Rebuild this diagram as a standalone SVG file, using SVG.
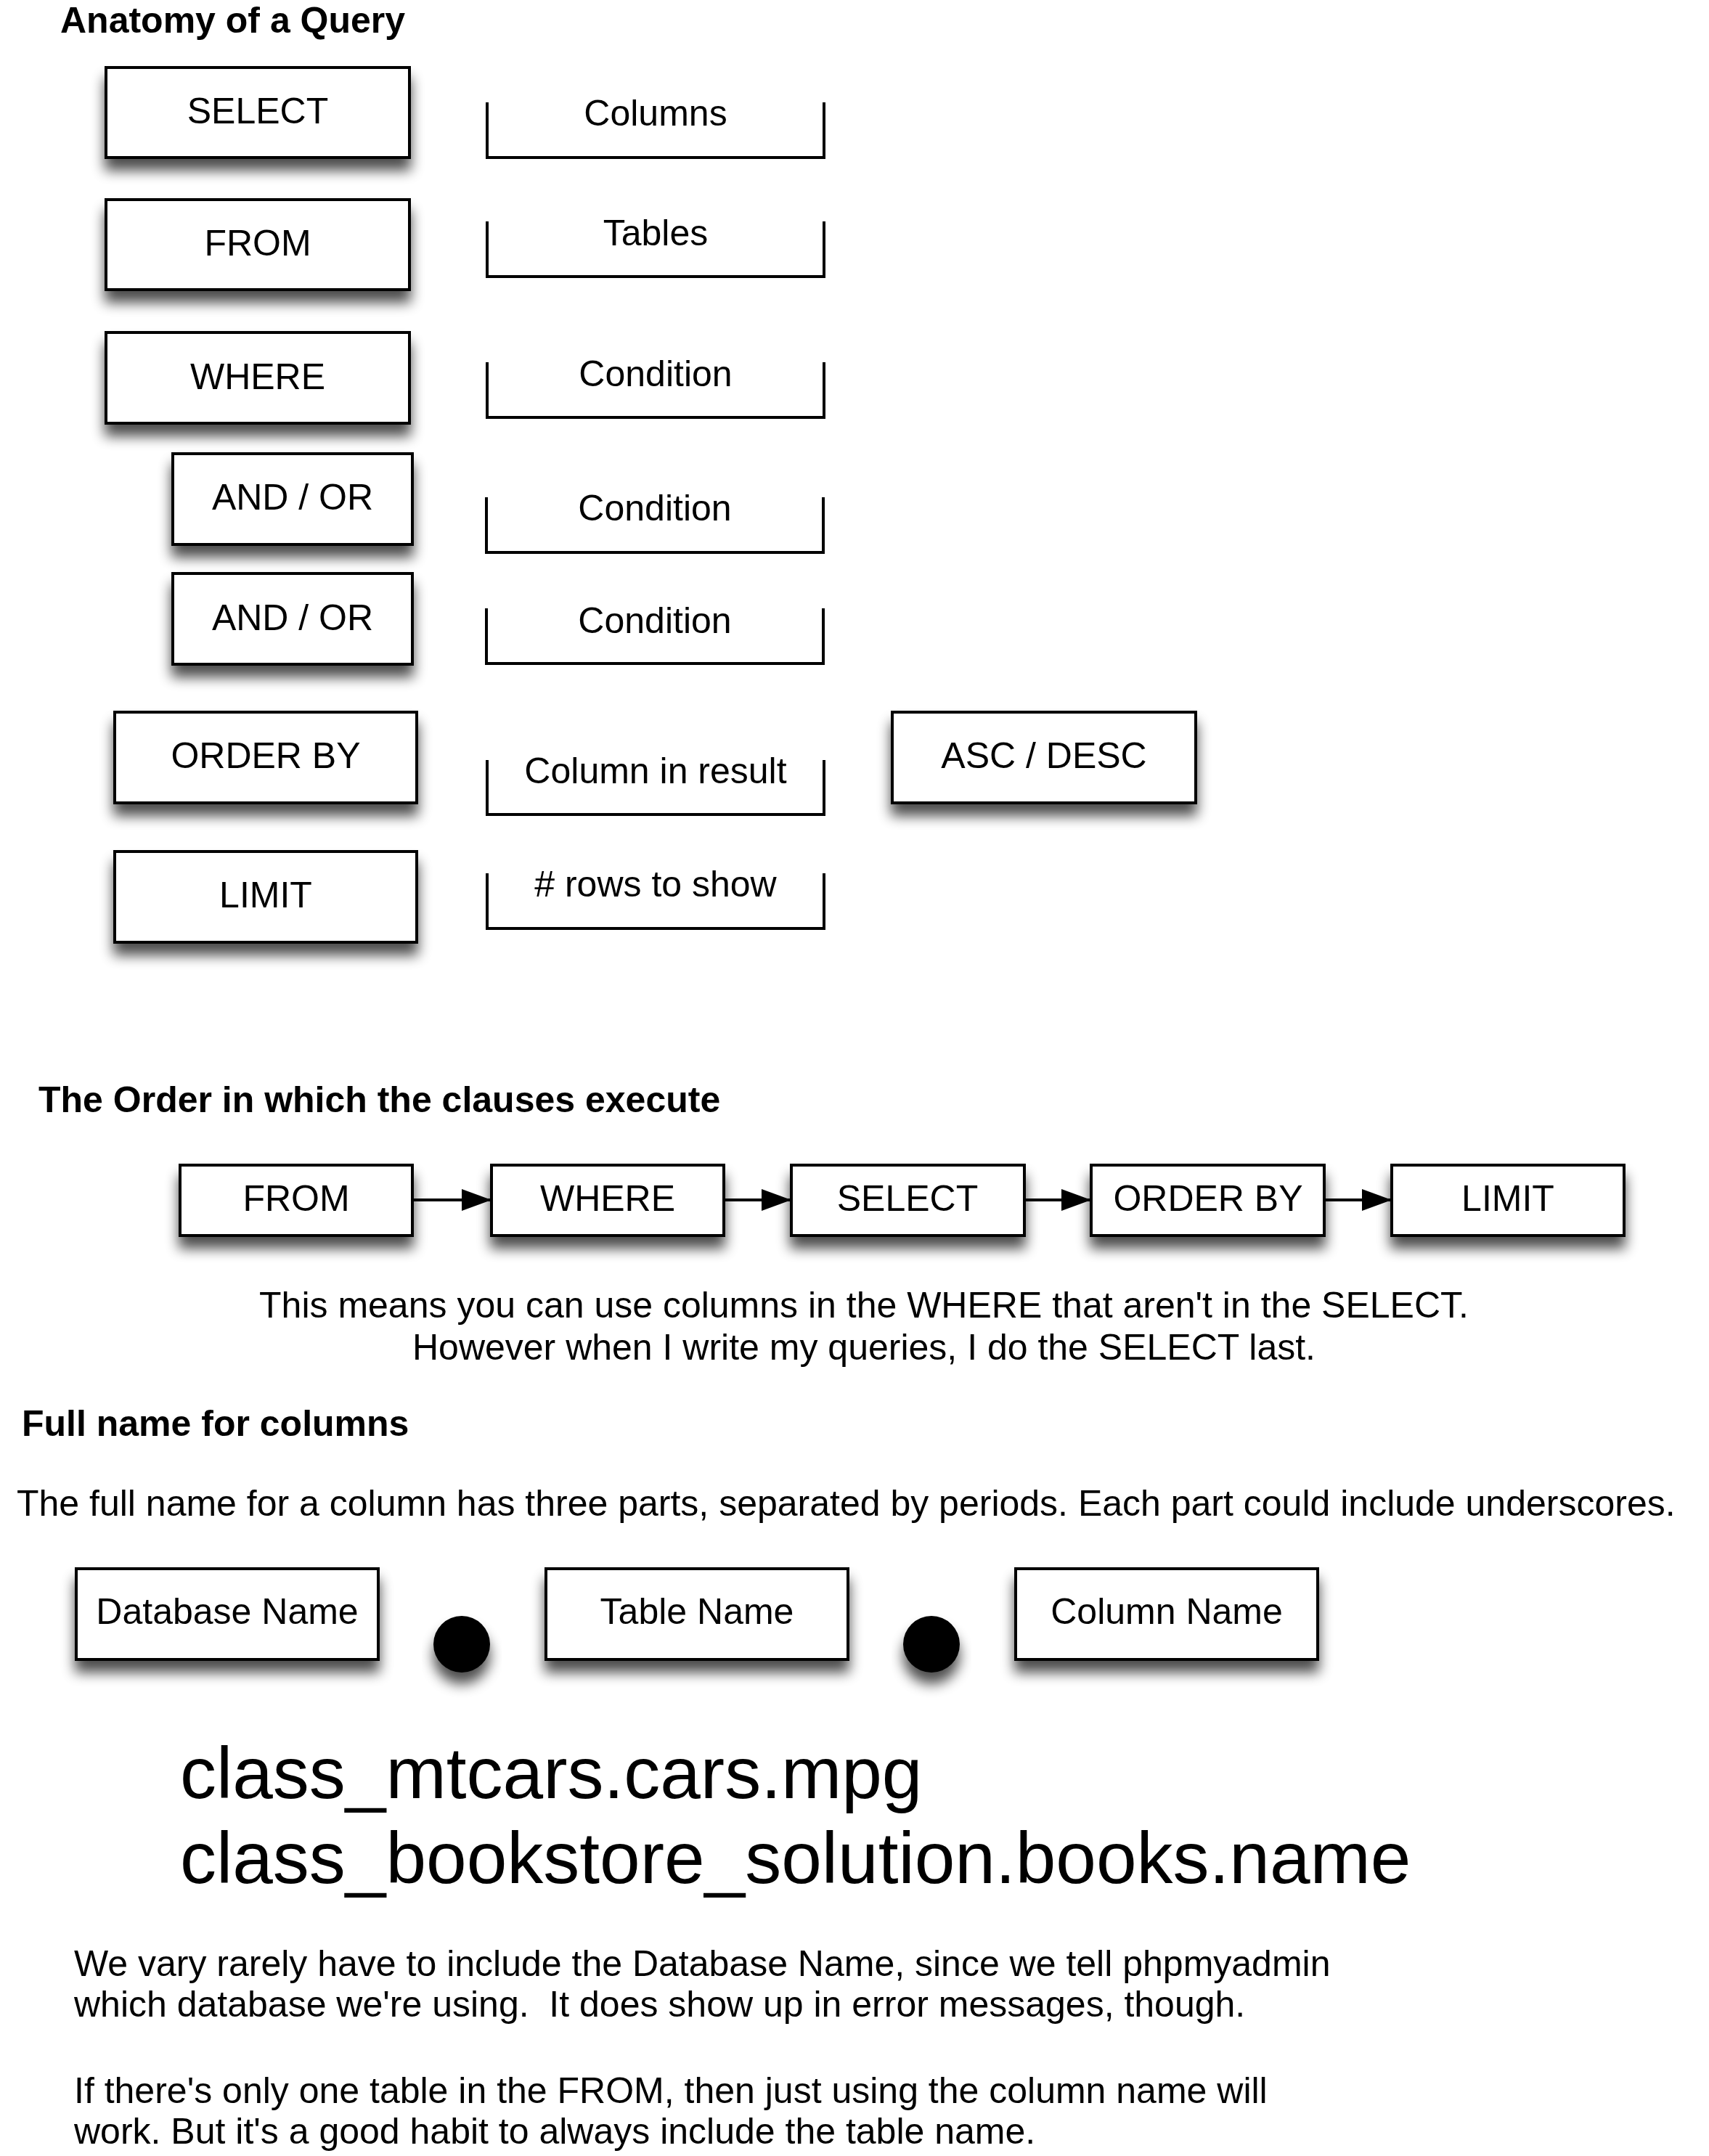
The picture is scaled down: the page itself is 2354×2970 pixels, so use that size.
<svg xmlns="http://www.w3.org/2000/svg" width="2354" height="2970" viewBox="0 0 2354 2970">
<style>
  text { font-family: "Liberation Sans", Arial, Helvetica, sans-serif; font-size: 50px; fill: #000; }
  .title { font-weight: bold; }
  .lbl { text-anchor: middle; }
  .code { font-size: 100px; }
  .box { fill: #fff; stroke: #000; stroke-width: 4; filter: url(#shadow); }
  .brk { fill: none; stroke: #000; stroke-width: 4; }
  .dot { fill: #000; filter: url(#shadow); }
  .conn { stroke: #000; stroke-width: 4; fill: none; marker-end: url(#arrow); }
</style>
<defs>
  <filter id="shadow" x="-20%" y="-30%" width="140%" height="190%">
    <feGaussianBlur in="SourceAlpha" stdDeviation="9"/>
    <feOffset dx="0" dy="16" result="b"/>
    <feComponentTransfer><feFuncA type="linear" slope="0.7"/></feComponentTransfer>
    <feMerge><feMergeNode/><feMergeNode in="SourceGraphic"/></feMerge>
  </filter>
  <marker id="arrow" markerUnits="userSpaceOnUse" markerWidth="42" markerHeight="32" refX="41" refY="15" orient="auto">
    <path d="M0,0 L41,15 L0,30 z" fill="#000"/>
  </marker>
</defs>
<rect width="2354" height="2970" fill="#fff"/>

<text class="title" x="83" y="45">Anatomy of a Query</text>

<g id="n-select"><rect class="box" x="146" y="93" width="418" height="124"/><text class="lbl" x="355" y="170">SELECT</text></g>
<g id="n-columns"><path class="brk" d="M671,141 V217 H1135 V141"/><text class="lbl" x="903" y="173">Columns</text></g>

<g id="n-from"><rect class="box" x="146" y="275" width="418" height="124"/><text class="lbl" x="355" y="352">FROM</text></g>
<g id="n-tables"><path class="brk" d="M671,305 V381 H1135 V305"/><text class="lbl" x="903" y="338">Tables</text></g>

<g id="n-where"><rect class="box" x="146" y="458" width="418" height="125"/><text class="lbl" x="355" y="536">WHERE</text></g>
<g id="n-cond1"><path class="brk" d="M671,499 V575 H1135 V499"/><text class="lbl" x="903" y="532">Condition</text></g>

<g id="n-andor1"><rect class="box" x="238" y="625" width="330" height="125"/><text class="lbl" x="403" y="702">AND / OR</text></g>
<g id="n-cond2"><path class="brk" d="M670,685 V761 H1134 V685"/><text class="lbl" x="902" y="717">Condition</text></g>

<g id="n-andor2"><rect class="box" x="238" y="790" width="330" height="125"/><text class="lbl" x="403" y="868">AND / OR</text></g>
<g id="n-cond3"><path class="brk" d="M670,838 V914 H1134 V838"/><text class="lbl" x="902" y="872">Condition</text></g>

<g id="n-orderby"><rect class="box" x="158" y="981" width="416" height="125"/><text class="lbl" x="366" y="1058">ORDER BY</text></g>
<g id="n-colres"><path class="brk" d="M671,1047 V1122 H1135 V1047"/><text class="lbl" x="903" y="1079">Column in result</text></g>
<g id="n-ascdesc"><rect class="box" x="1229" y="981" width="418" height="125"/><text class="lbl" x="1438" y="1058">ASC / DESC</text></g>

<g id="n-limit"><rect class="box" x="158" y="1173" width="416" height="125"/><text class="lbl" x="366" y="1250">LIMIT</text></g>
<g id="n-rows"><path class="brk" d="M671,1203 V1279 H1135 V1203"/><text class="lbl" x="903" y="1235"># rows to show</text></g>

<text class="title" x="53" y="1532">The Order in which the clauses execute</text>

<g id="f-from"><rect class="box" x="248" y="1605" width="320" height="97"/><text class="lbl" x="408" y="1668">FROM</text></g>
<g id="f-where"><rect class="box" x="677" y="1605" width="320" height="97"/><text class="lbl" x="837" y="1668">WHERE</text></g>
<g id="f-select"><rect class="box" x="1090" y="1605" width="321" height="97"/><text class="lbl" x="1250" y="1668">SELECT</text></g>
<g id="f-orderby"><rect class="box" x="1503" y="1605" width="321" height="97"/><text class="lbl" x="1664" y="1668">ORDER BY</text></g>
<g id="f-limit"><rect class="box" x="1917" y="1605" width="320" height="97"/><text class="lbl" x="2077" y="1668">LIMIT</text></g>

<g id="connectors">
  <line class="conn" x1="568" y1="1653" x2="677" y2="1653"/>
  <line class="conn" x1="997" y1="1653" x2="1090" y2="1653"/>
  <line class="conn" x1="1411" y1="1653" x2="1503" y2="1653"/>
  <line class="conn" x1="1824" y1="1653" x2="1917" y2="1653"/>
</g>

<text class="lbl" x="1190" y="1815">This means you can use columns in the WHERE that aren't in the SELECT.</text>
<text class="lbl" x="1190" y="1873">However when I write my queries, I do the SELECT last.</text>

<text class="title" x="30" y="1978">Full name for columns</text>
<text x="23" y="2088">The full name for a column has three parts, separated by periods. Each part could include underscores.</text>

<g id="n-dbname"><rect class="box" x="105" y="2161" width="416" height="125"/><text class="lbl" x="313" y="2237">Database Name</text></g>
<g id="n-dot1"><circle class="dot" cx="636" cy="2265" r="39"/></g>
<g id="n-tblname"><rect class="box" x="752" y="2161" width="416" height="125"/><text class="lbl" x="960" y="2237">Table Name</text></g>
<g id="n-dot2"><circle class="dot" cx="1283" cy="2265" r="39"/></g>
<g id="n-colname"><rect class="box" x="1399" y="2161" width="416" height="125"/><text class="lbl" x="1607" y="2237">Column Name</text></g>

<text class="code" x="248" y="2477">class_mtcars.cars.mpg</text>
<text class="code" x="248" y="2594">class_bookstore_solution.books.name</text>

<text x="102" y="2722">We vary rarely have to include the Database Name, since we tell phpmyadmin</text>
<text x="102" y="2778" xml:space="preserve">which database we're using.  It does show up in error messages, though.</text>
<text x="102" y="2897">If there's only one table in the FROM, then just using the column name will</text>
<text x="102" y="2953">work. But it's a good habit to always include the table name.</text>
</svg>
